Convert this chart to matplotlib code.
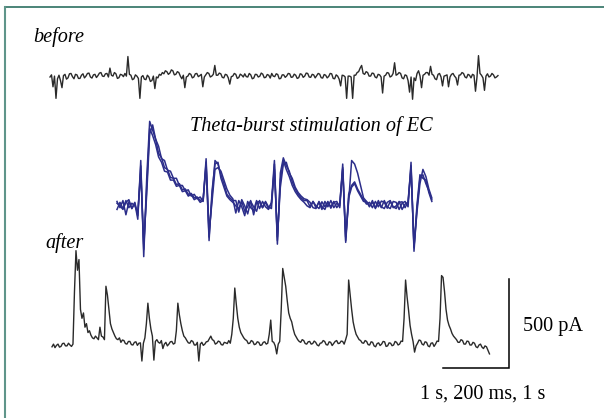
import numpy as np
import matplotlib
matplotlib.use("Agg")
import matplotlib.pyplot as plt
from matplotlib.lines import Line2D

# ---------------- data (pA relative to baseline) ----------------
SAMPLE_S = 0.0227       # sample interval of before/after traces (s)
SAMPLE_MS_THETA = 9.0   # sample interval of theta-burst sweeps (ms)

before_pA = [
    0, 12, -55, 5, -120, -10, 10, -20, -60, 8,
    15, -12, -5, 18, 20, 2, -10, 15, 12, -8,
    -8, 10, 18, -5, 5, 20, 22, 0, -6, 12,
    15, -3, 8, 22, 25, 5, 3, 18, 20, 0,
    50, 10, 5, 25, 18, -8, -4, 15, 12, 2,
    20, 5, 115, 15, 10, -15, -10, 12, 5, -8,
    -120, 0, 8, -12, -15, 10, 0, -25, -20, 5,
    -65, 0, -5, 15, 10, 25, 18, 35, 30, 15,
    22, 40, 35, 12, 15, 30, 25, 5, -10, 10,
    -60, 0, 5, 20, 15, -5, 0, 18, 20, 2,
    8, 15, -55, 0, 12, 25, 20, 0, 5, 15,
    65, 10, 10, 22, 18, -2, -5, 15, 12, -5,
    -40, 2, 5, 20, 15, -8, -3, 16, 10, 0,
    18, 2, 0, 20, 12, -10, -6, 15, 14, 0,
    4, 22, 16, -4, -2, 14, 10, -6, 20, 5,
    2, 18, 14, -10, -8, 12, 12, -2, 6, 20,
    18, -2, 0, 16, 10, -8, -4, 18, 15, -2,
    5, 22, 20, 0, -2, 15, 12, -5, 8, 20,
    16, -4, -6, 14, 10, -5, 3, 20, 18, -8,
    -10, 12, 5, -12, -50, 10, 8, 0, -120, 5,
    5, 0, -120, 10, 10, 25, 30, 50, 65, 20,
    15, 30, 25, 5, 5, 22, 20, 0, -5, 15,
    12, 0, -90, 5, 10, 25, 22, 0, 5, 20,
    80, 10, 15, 25, 20, -5, -10, 12, 8, -20,
    -85, 0, -125, -5, -20, 20, 35, 5, -60, 10,
    15, 25, 25, 10, 60, 15, 10, -10, -15, 15,
    20, 0, -50, 5, 8, 12, -55, 0, 15, 20,
    5, -5, -45, 10, 12, 25, 20, 0, -5, 15,
    10, -5, 15, 10, -80, 0, 120, 20, 10, -5,
    -75, 5, 18, 0, 5, 20, 12, -5, 0, 8,
]

after_pA = [
    -10, 5, -15, -2, 5, -12, -8, 8, 10, -5,
    -5, 10, 0, -8, 5, 300, 530, 420, 480, 200,
    150, 180, 100, 120, 70, 80, 55, 40, 35, 50,
    40, 30, 100, 50, 45, 30, 330, 280, 200, 120,
    90, 70, 50, 35, 30, 40, 15, 28, 25, 8,
    5, 20, 20, 2, 0, 15, 18, -2, 10, 12,
    -90, 10, 40, 120, 235, 150, 90, 50, -85, 20,
    30, 15, 10, 25, -20, 5, 15, -5, 5, 18,
    20, 5, 10, 80, 235, 170, 120, 80, 50, 40,
    25, 12, 10, 25, 20, 0, 0, 15, -90, 5,
    15, -2, 5, 18, 20, 35, 50, 30, 25, 5,
    10, 22, 18, 2, 0, 15, 12, 8, 25, 10,
    60, 150, 320, 230, 150, 100, 70, 55, 40, 30,
    25, 8, 10, 25, 20, 2, 5, 18, 15, -2,
    0, 15, 18, 5, 10, 60, 140, 20, 15, -5,
    -50, 5, 20, 200, 430, 380, 330, 250, 180, 150,
    130, 90, 60, 45, 30, 20, 15, 30, 25, 8,
    5, 18, 20, 5, 8, 22, 15, 0, -5, 10,
    12, 25, 20, 2, 0, 18, 15, -3, 8, 20,
    25, 8, 10, 22, 20, 5, 30, 60, 365, 280,
    200, 130, 90, 60, 45, 30, 25, 12, 10, 25,
    20, 2, 0, 18, 15, -5, -10, 8, 12, -3,
    5, 20, 18, -8, -5, 12, 10, -4, 0, 20,
    15, 0, 5, 22, 20, 150, 365, 270, 195, 110,
    60, 20, -40, -5, 10, 28, 25, 5, 0, 18,
    15, -5, -10, 10, 12, -8, 5, 22, 20, 150,
    390, 380, 300, 200, 140, 110, 90, 65, 50, 40,
    30, 15, 15, 30, 25, 5, 5, 22, 20, 0,
    0, 15, 10, -10, -15, 0, 5, -12, -20, -5,
    -10, -30, -50,
]

theta_sweep_a = [
    20, -15, 25, -55, 18, -20, 10, -80, 250, -290,
    150, 470, 420, 370, 290, 265, 210, 200, 155, 150,
    115, 120, 85, 90, 60, 65, 40, 45, 25, 35,
    220, -180, 50, 250, 230, 170, 120, 60, 40, 25,
    25, -40, 30, -5, -50, 20, -10, -35, 25, -15,
    15, -20, 10, 250, -220, 180, 265, 220, 190, 130,
    90, 60, 40, 25, 25, -10, 20, -15, 15, -25,
    20, -10, 25, -15, 10, -5, 230, -210, 40, 100,
    120, 80, 50, 20, 20, -10, 25, -20, 15, -15,
    25, -10, -20, 20, 15, -25, 10, 20, -10, 240,
    -260, -20, 150, 170, 120, 80, 30,
]
theta_sweep_b = [
    -25, 15, -20, 25, -15, 10, -5, -40, 180, -220,
    60, 400, 450, 370, 330, 260, 250, 195, 190, 150,
    150, 110, 110, 80, 85, 50, 60, 35, 45, 20,
    260, -150, 20, 200, 210, 190, 140, 90, 55, 35,
    -45, 25, -10, -60, 20, -15, -30, 25, -20, 20,
    -10, -25, 15, 200, -180, 100, 230, 240, 180, 150,
    100, 70, 50, 35, 30, 15, -15, -20, 20, -10,
    -25, 15, -10, 20, -15, 10, 200, -180, 20, 250,
    230, 180, 110, 40, 20, -5, 15, -15, 25, -10,
    -20, 15, 25, -15, -5, 20, -25, 5, 15, 200,
    -230, -40, 120, 200, 160, 90, 40,
]
theta_sweep_c = [
    10, -5, -25, 15, 30, -20, 15, -60, 220, -250,
    100, 430, 390, 340, 270, 240, 190, 185, 140, 140,
    105, 110, 75, 80, 50, 60, 30, 40, 15, 25,
    240, -200, 80, 230, 240, 150, 100, 50, 30, 15,
    -5, -20, 20, -35, -10, 25, -55, 15, 20, -15,
    20, -10, -20, 230, -200, 140, 250, 200, 160, 110,
    75, 50, 30, 15, -5, -15, 20, -5, -20, 18,
    -10, 20, -18, 15, 20, -15, 210, -200, 60, 110,
    130, 90, 60, 30, 5, 15, -15, 20, -10, 22,
    15, -18, 20, -10, -20, 15, 18, -15, 20, 220,
    -240, 0, 170, 150, 140, 70, 20,
]

SCALE_TIME_S = 1.0
SCALE_CURRENT_PA = 500.0
scale_label_current = "500 pA"
scale_label_time = "1 s, 200 ms, 1 s"

# ---------------- figure ----------------
W, H = 604, 418
fig = plt.figure(figsize=(W / 100, H / 100), dpi=100)
fig.patch.set_facecolor("white")

PX_PER_PA = 89.0 / 500.0


def trace_axes(x0_px, y0_px, px_per_x, px_per_y):
    ax = fig.add_axes([0, 0, 1, 1])
    ax.set_axis_off()
    ax.patch.set_alpha(0)
    ax.set_xlim(-x0_px / px_per_x, (W - x0_px) / px_per_x)
    ax.set_ylim((y0_px - H) / px_per_y, y0_px / px_per_y)
    return ax


gray = "#2a2a2a"
navy = "#2c2e8a"

# before
ax_b = trace_axes(50, 77, 66.0, PX_PER_PA)
t_b = np.arange(len(before_pA)) * SAMPLE_S
ax_b.plot(t_b, before_pA, color=gray, lw=1.0)

# theta-burst sweeps
ax_t = trace_axes(117, 205, 66.0 / 200.0, PX_PER_PA)
for sw in (theta_sweep_a, theta_sweep_b, theta_sweep_c):
    t_t = np.arange(len(sw)) * SAMPLE_MS_THETA
    ax_t.plot(t_t, sw, color=navy, lw=1.1)

# after
ax_a = trace_axes(52, 345, 66.0, PX_PER_PA)
t_a = np.arange(len(after_pA)) * SAMPLE_S
ax_a.plot(t_a, after_pA, color=gray, lw=1.0)

# scale bar (in after-trace units)
bar_t_end = 6.92
bar_i_low = -129.0
ax_a.plot([bar_t_end - SCALE_TIME_S, bar_t_end, bar_t_end],
          [bar_i_low, bar_i_low, bar_i_low + SCALE_CURRENT_PA],
          color="black", lw=1.1, solid_joinstyle="miter", clip_on=False)

# texts
serif = ["Liberation Serif", "DejaVu Serif"]
fs = 14.6
fig.text(33 / W, 1 - 37 / H, "before", family=serif, style="italic",
         fontsize=fs, ha="left", va="center")
fig.text(190 / W, 1 - 126 / H, "Theta-burst stimulation of EC", family=serif,
         style="italic", fontsize=fs, ha="left", va="center")
fig.text(45 / W, 1 - 243 / H, "after", family=serif, style="italic",
         fontsize=fs, ha="left", va="center")
fig.text(523 / W, 1 - 327 / H, scale_label_current, family=serif,
         fontsize=fs, ha="left", va="center")
fig.text(420 / W, 1 - 394 / H, scale_label_time, family=serif,
         fontsize=fs, ha="left", va="center")

# frame lines (top and left)
frame_c = "#3d7b6d"
fig.add_artist(Line2D([5 / W, 1], [1 - 7 / H, 1 - 7 / H], transform=fig.transFigure,
                      color=frame_c, lw=1.3))
fig.add_artist(Line2D([5 / W, 5 / W], [1 - 7 / H, 0], transform=fig.transFigure,
                      color="#5f958a", lw=1.5))

fig.savefig("out.png", dpi=100)
